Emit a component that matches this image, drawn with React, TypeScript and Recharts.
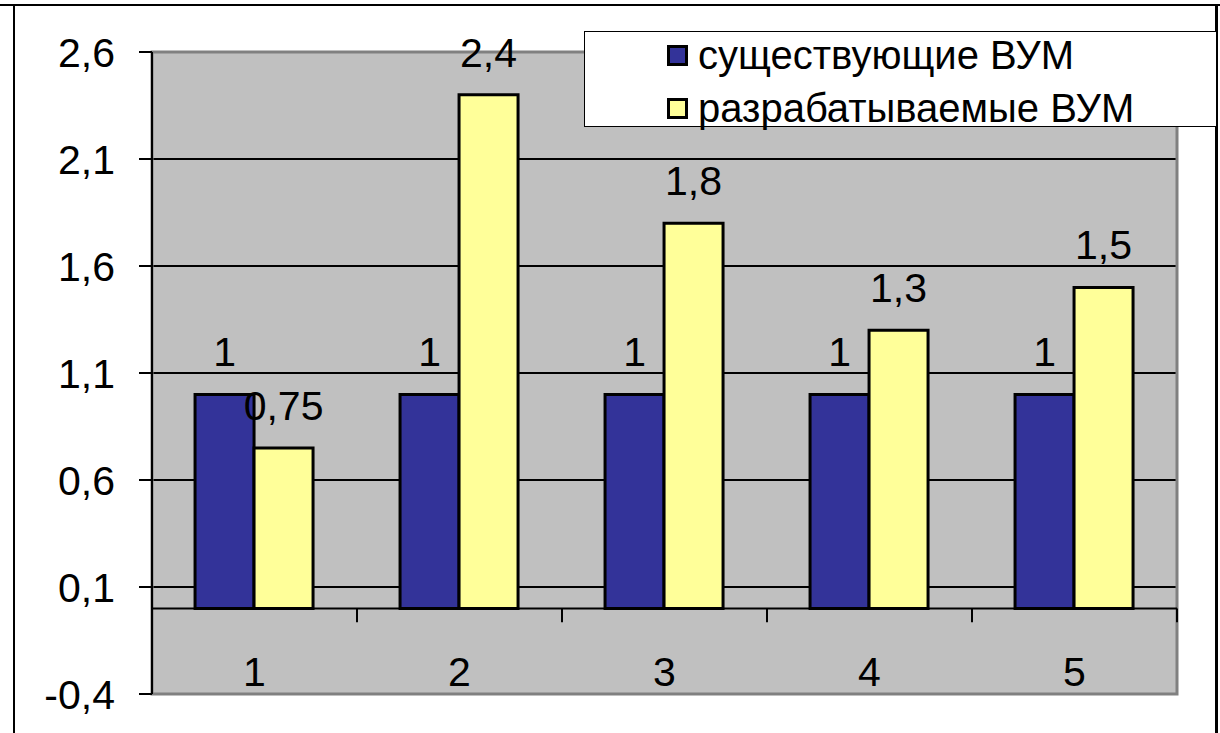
import React from 'react';
import {
  BarChart,
  Bar,
  XAxis,
  YAxis,
  CartesianGrid,
  ReferenceLine,
  ReferenceArea,
  LabelList,
  Legend,
} from 'recharts';

const categories = ['1', '2', '3', '4', '5'];
const existing = [1, 1, 1, 1, 1];
const developed = [0.75, 2.4, 1.8, 1.3, 1.5];
const yTicks = [-0.4, 0.1, 0.6, 1.1, 1.6, 2.1, 2.6];
const gridValues = [0.1, 0.6, 1.1, 1.6, 2.1];
const seriesNames = ['существующие ВУМ', 'разрабатываемые ВУМ'];
const seriesColors = ['#333399', '#FFFF99'];

const data = categories.map((c, i) => ({
  cat: c,
  existing: existing[i],
  developed: developed[i],
}));

const FONT = '"Liberation Sans", Arial, sans-serif';
const comma = (v: any) => String(v).replace('.', ',');

const CategoryTick = (props: any) => {
  const { x, y, payload } = props;
  return (
    <text x={x} y={y - 8} textAnchor="middle" fontSize={41} fontFamily={FONT} fill="#000">
      {payload.value}
    </text>
  );
};

const LegendBox = () => (
  <div
    style={{
      width: 633,
      height: 96,
      boxSizing: 'border-box',
      border: '1px solid #000',
      background: '#fff',
      fontFamily: FONT,
      fontSize: 40,
      color: '#000',
      paddingLeft: 82,
    }}
  >
    <div style={{ position: 'relative', top: -3 }}>
      {seriesNames.map((name, i) => (
        <div key={name} style={{ display: 'flex', alignItems: 'center', height: 53, whiteSpace: 'nowrap' }}>
          <span
            style={{
              display: 'inline-block',
              flex: 'none',
              width: 15,
              height: 15,
              border: '3px solid #000',
              background: seriesColors[i],
              marginRight: 10,
            }}
          />
          <span>{name}</span>
        </div>
      ))}
    </div>
  </div>
);

const App: React.FC = () => {
  return (
    <div style={{ position: 'absolute', left: 0, top: 0, width: 1220, height: 733, background: '#fff', overflow: 'hidden' }}>
      <div style={{ position: 'absolute', left: 0, top: 4, width: 1220, height: 2, background: '#000' }} />
      <div style={{ position: 'absolute', left: 13, top: 4, width: 2, height: 740, background: '#000' }} />
      <div style={{ position: 'absolute', left: 1215, top: 4, width: 3, height: 740, background: '#000' }} />
      <div style={{ position: 'absolute', left: 0, top: 0 }}>
        <BarChart
          width={1220}
          height={733}
          data={data}
          margin={{ top: 52, right: 43, bottom: 38, left: 0 }}
          barCategoryGap="21%"
          barGap={0}
        >
          <CartesianGrid
            vertical={false}
            horizontalValues={gridValues}
            stroke="#000"
            strokeWidth={2}
            fill="#C0C0C0"
            fillOpacity={1}
          />
          <ReferenceArea y1={-0.4} y2={2.6} fill="none" stroke="#808080" strokeWidth={3} />
          <XAxis
            dataKey="cat"
            axisLine={false}
            tickLine={false}
            tickSize={0}
            tickMargin={0}
            height={1}
            interval={0}
            tick={CategoryTick}
          />
          <YAxis
            width={152}
            domain={[-0.4, 2.6]}
            ticks={yTicks}
            interval={0}
            tickFormatter={comma}
            axisLine={{ stroke: '#000', strokeWidth: 2 }}
            tickLine={{ stroke: '#000', strokeWidth: 2 }}
            tickSize={13}
            tickMargin={24}
            tick={{ fill: '#000', fontSize: 41, fontFamily: FONT }}
          />
          <ReferenceLine y={0} stroke="#000" strokeWidth={2} />
          {categories.map((c) => (
            <ReferenceLine
              key={c}
              position="end"
              segment={[
                { x: c, y: 0 },
                { x: c, y: -0.065 },
              ]}
              stroke="#000"
              strokeWidth={2}
            />
          ))}
          <Legend
            layout="vertical"
            align="center"
            verticalAlign="middle"
            content={<LegendBox />}
            wrapperStyle={{ left: 584, top: 31, width: 633, height: 96 }}
          />
          <Bar dataKey="existing" name={seriesNames[0]} fill={seriesColors[0]} stroke="#000" strokeWidth={3} isAnimationActive={false}>
            <LabelList dataKey="existing" position="top" offset={28} formatter={comma} fill="#000" fontSize={41} fontFamily={FONT} />
          </Bar>
          <Bar dataKey="developed" name={seriesNames[1]} fill={seriesColors[1]} stroke="#000" strokeWidth={3} isAnimationActive={false}>
            <LabelList dataKey="developed" position="top" offset={28} formatter={comma} fill="#000" fontSize={41} fontFamily={FONT} />
          </Bar>
        </BarChart>
      </div>
    </div>
  );
};

export default App;
